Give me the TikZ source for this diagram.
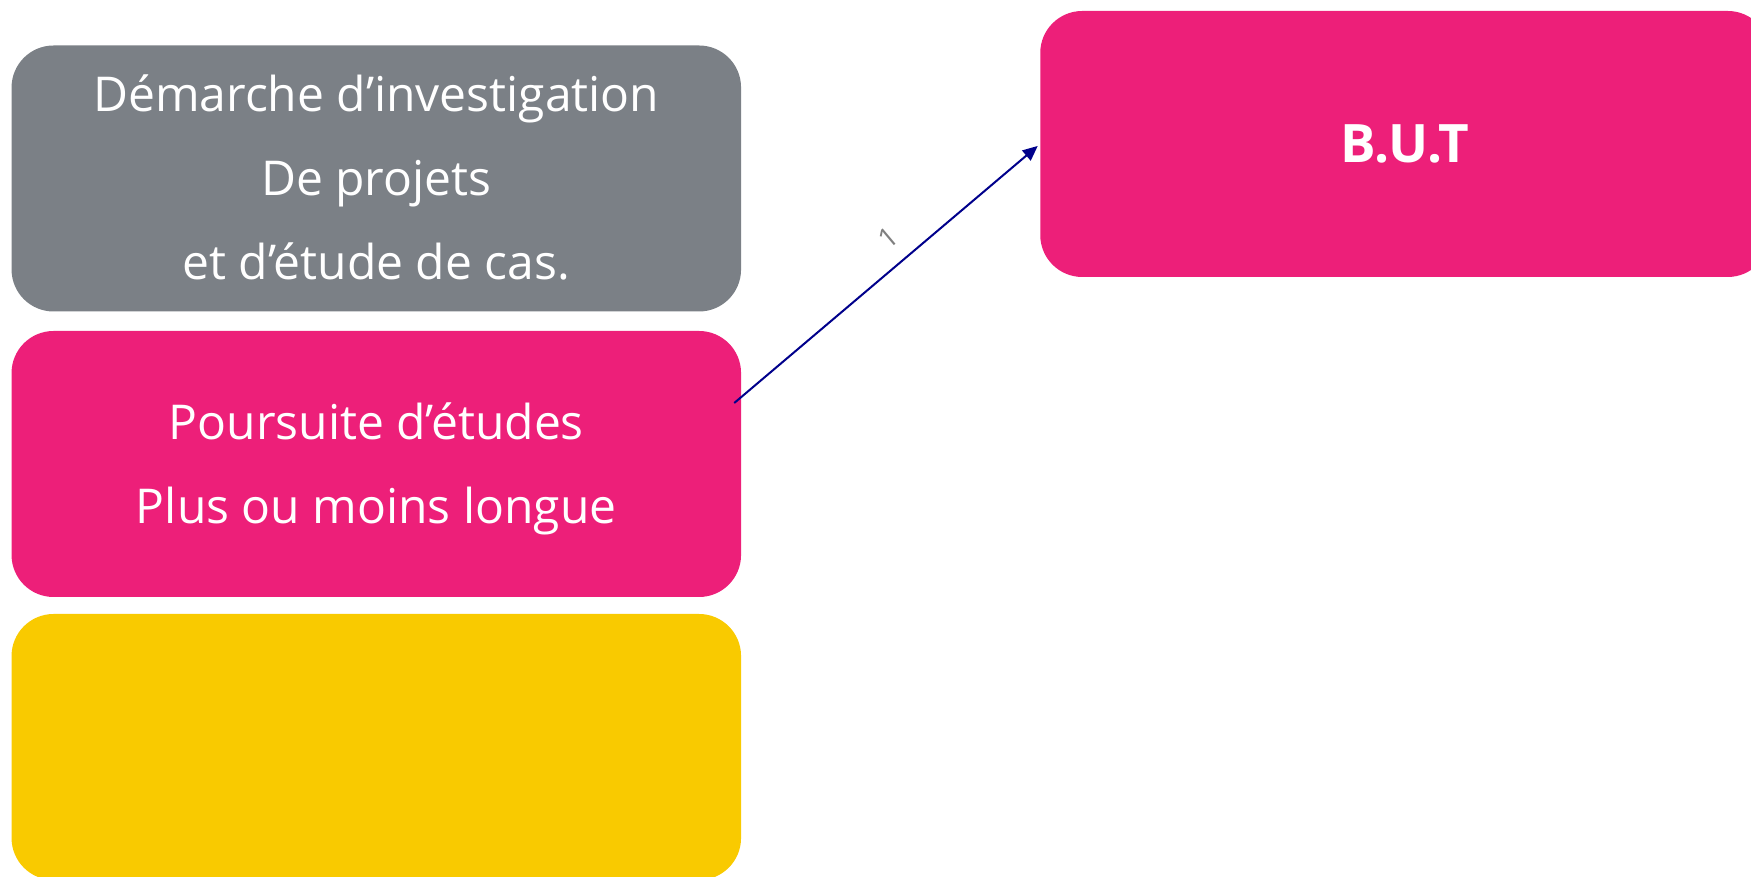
\documentclass[tikz,border=0pt]{standalone}
\usepackage{fontspec}
\setmainfont{Open Sans}
\usetikzlibrary{arrows.meta,calc}
\definecolor{boxgray}{RGB}{123,128,134}
\definecolor{boxpink}{RGB}{237,31,121}
\definecolor{boxyellow}{RGB}{249,202,0}
\definecolor{arrownavy}{RGB}{0,0,139}
\definecolor{labelgray}{RGB}{128,128,128}
\newcommand{\topstrut}{\rule{0pt}{46pt}}
\newcommand{\botstrut}{\rule[-11pt]{0pt}{11pt}}
\begin{document}
\begin{tikzpicture}[x=1pt,y=1pt,
  card/.style={rounded corners=42pt, minimum width=729.5pt, minimum height=266pt,
    inner sep=0pt, text=white, align=center, font=\fontsize{48}{84}\selectfont},
  link/.style={draw=arrownavy, line width=2pt, -{Triangle[length=15pt,width=13pt]}, shorten >=3pt},
  lbl/.style={text=labelgray, font=\fontsize{28}{32}\selectfont, inner sep=0pt}]
\useasboundingbox (0,0) rectangle (1751,877);
\node[card, fill=boxgray] (demarche) at (376.3,698.5)
  {\topstrut Démarche d’investigation\\De projets\\et d’étude de cas.\botstrut};
\node[card, fill=boxpink] (poursuite) at (376.3,413)
  {\topstrut Poursuite d’études\\Plus ou moins longue\botstrut};
\node[card, fill=boxyellow] (vide) at (376.3,130) {};
\node[card, fill=boxpink, font=\fontsize{53}{60}\bfseries\selectfont] (but) at (1405,733) {B.U.T};
\coordinate (s) at ([xshift=-7pt,yshift=61pt]poursuite.east);
\draw[link] (s) -- (but.west);
\node[lbl, rotate=40] (un) at ($(s)!0.56!(but.west)!27pt!90:(but.west)$) {1};
\end{tikzpicture}
\end{document}
